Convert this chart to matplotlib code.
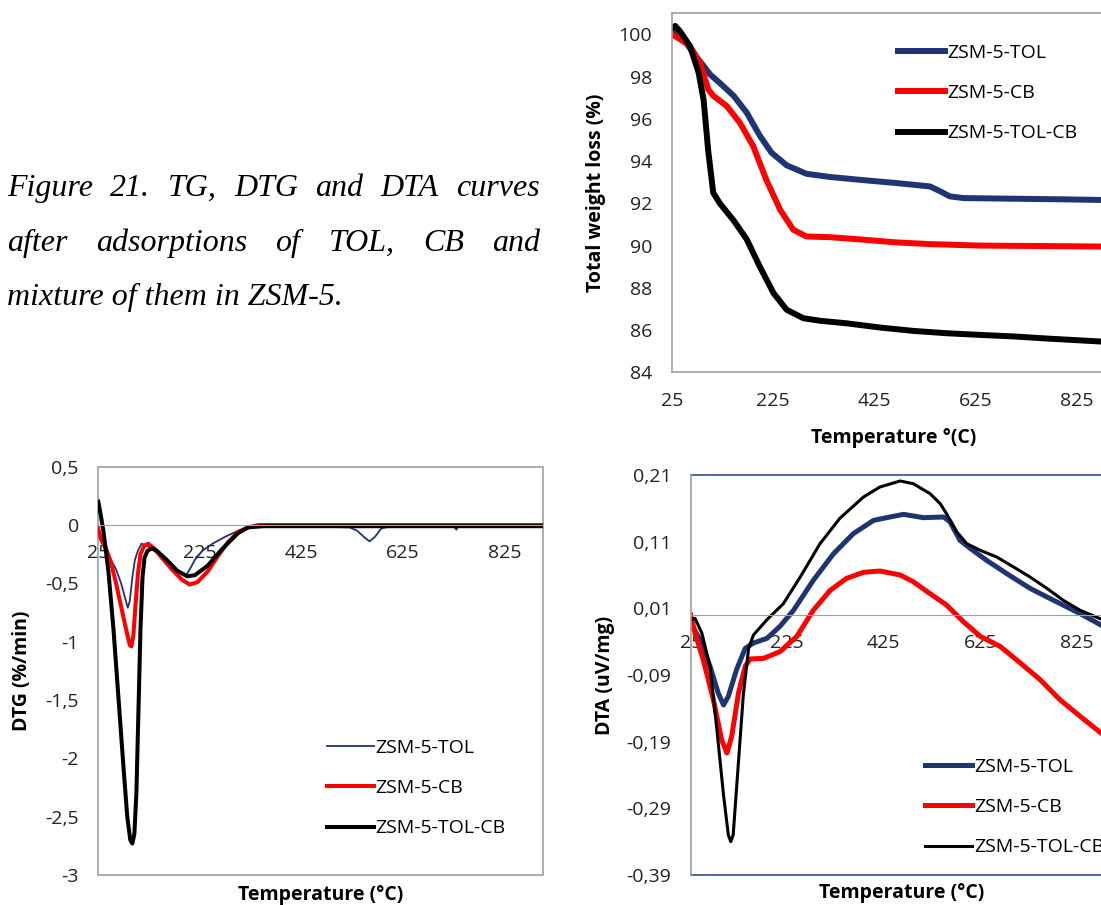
import numpy as np
import matplotlib
matplotlib.use("Agg")
import matplotlib.pyplot as plt
from matplotlib.lines import Line2D
from matplotlib.patches import Rectangle

# ------------------------------------------------------------------
# Data (temperature in degC)
# ------------------------------------------------------------------
labels = ["ZSM-5-TOL", "ZSM-5-CB", "ZSM-5-TOL-CB"]

# TG: total weight loss (%)
tg_tol_t = [25, 45, 68, 85, 101, 120, 147, 173, 199, 222, 252, 291, 337, 403,
            469, 535, 555, 574, 601, 699, 800, 900]
tg_tol = [100.2, 99.9, 99.1, 98.6, 98.1, 97.7, 97.1, 96.3, 95.2, 94.4, 93.8,
          93.4, 93.25, 93.1, 92.96, 92.8, 92.57, 92.33, 92.25, 92.22, 92.19, 92.15]
tg_cb_t = [25, 40, 61, 81, 97, 107, 134, 160, 186, 212, 239, 265, 291, 337,
           403, 469, 535, 634, 750, 900]
tg_cb = [100.0, 99.8, 99.45, 98.66, 97.4, 97.1, 96.6, 95.8, 94.7, 93.1, 91.7,
         90.75, 90.43, 90.4, 90.28, 90.15, 90.07, 90.0, 89.98, 89.95]
tg_mix_t = [25, 32, 41, 61, 78, 88, 97, 107, 120, 147, 173, 199, 226, 252,
            285, 318, 370, 436, 502, 568, 634, 699, 765, 900]
tg_mix = [100.3, 100.4, 100.16, 99.45, 98.2, 96.9, 94.5, 92.5, 92.0, 91.2,
          90.3, 89.0, 87.75, 86.96, 86.56, 86.44, 86.32, 86.12, 85.96, 85.85,
          85.77, 85.7, 85.6, 85.42]

# DTG (%/min)
dtg_tol_t = [25, 30, 40, 50, 60, 70, 78, 83, 87, 92, 97, 103, 110, 118, 130,
             150, 170, 190, 198, 205, 215, 230, 250, 275, 300, 320, 400, 520,
             535, 550, 559, 570, 582, 600, 725, 730, 735, 900]
dtg_tol = [-0.05, -0.12, -0.22, -0.3, -0.38, -0.5, -0.63, -0.71, -0.65, -0.45,
           -0.3, -0.22, -0.16, -0.17, -0.2, -0.28, -0.36, -0.42, -0.43, -0.38,
           -0.3, -0.22, -0.16, -0.1, -0.05, -0.02, -0.01, -0.02, -0.05, -0.11,
           -0.14, -0.1, -0.03, -0.01, -0.01, -0.04, 0.0, -0.01]
dtg_cb_t = [25, 30, 40, 50, 60, 70, 80, 87, 90, 94, 98, 103, 108, 115, 123,
            135, 150, 170, 190, 205, 220, 240, 260, 280, 300, 320, 340, 900]
dtg_cb = [-0.03, -0.12, -0.2, -0.32, -0.5, -0.7, -0.9, -1.03, -1.04, -0.95,
          -0.7, -0.42, -0.25, -0.18, -0.16, -0.2, -0.28, -0.38, -0.47, -0.51,
          -0.49, -0.4, -0.27, -0.15, -0.06, -0.02, 0.0, 0.0]
dtg_mix_t = [25, 30, 35, 45, 55, 65, 75, 82, 88, 92, 96, 100, 104, 108, 112,
             116, 122, 130, 140, 160, 180, 200, 215, 240, 270, 300, 320, 350,
             900]
dtg_mix = [0.2, 0.08, -0.05, -0.4, -0.9, -1.5, -2.1, -2.5, -2.7, -2.73, -2.65,
           -2.3, -1.6, -0.9, -0.45, -0.28, -0.22, -0.2, -0.22, -0.3, -0.39,
           -0.44, -0.43, -0.35, -0.2, -0.07, -0.02, -0.01, -0.01]

# DTA (uV/mg)
dta_tol_t = [25, 44, 65, 82, 93, 103, 120, 138, 155, 183, 210, 238, 279, 321,
             362, 404, 431, 466, 507, 549, 562, 583, 604, 638, 680, 728, 777,
             832, 875, 900]
dta_tol = [-0.012, -0.037, -0.077, -0.117, -0.135, -0.122, -0.082, -0.05,
           -0.042, -0.035, -0.017, 0.007, 0.052, 0.092, 0.122, 0.142, 0.146,
           0.151, 0.146, 0.147, 0.14, 0.112, 0.1, 0.082, 0.062, 0.04, 0.022,
           0.002, -0.015, -0.025]
dta_cb_t = [25, 34, 51, 72, 89, 100, 110, 124, 138, 148, 176, 210, 245, 279,
            314, 348, 383, 417, 459, 486, 521, 555, 590, 625, 666, 708, 749,
            790, 832, 875, 900]
dta_cb = [0.0, -0.027, -0.067, -0.127, -0.187, -0.207, -0.182, -0.117, -0.077,
          -0.066, -0.065, -0.055, -0.032, 0.007, 0.037, 0.055, 0.064, 0.066,
          0.06, 0.05, 0.032, 0.015, -0.01, -0.032, -0.047, -0.072, -0.097,
          -0.127, -0.152, -0.177, -0.19]
dta_mix_t = [25, 34, 48, 65, 79, 93, 103, 108, 113, 124, 134, 145, 155, 183,
             217, 252, 293, 334, 383, 417, 459, 486, 521, 542, 555, 576, 597,
             625, 659, 694, 728, 763, 797, 832, 875, 900]
dta_mix = [-0.007, -0.005, -0.027, -0.077, -0.17, -0.27, -0.33, -0.34, -0.33,
           -0.22, -0.12, -0.05, -0.03, -0.007, 0.017, 0.057, 0.107, 0.145,
           0.177, 0.192, 0.201, 0.197, 0.182, 0.167, 0.152, 0.125, 0.107,
           0.097, 0.087, 0.072, 0.057, 0.04, 0.022, 0.007, -0.006, -0.015]

# Axis ticks and labels
x_ticks = [25, 225, 425, 625, 825]
x_ticklabels = ["25", "225", "425", "625", "825"]
tg_yticks = [84, 86, 88, 90, 92, 94, 96, 98, 100]
tg_yticklabels = ["84", "86", "88", "90", "92", "94", "96", "98", "100"]
dtg_yticks = [-3, -2.5, -2, -1.5, -1, -0.5, 0, 0.5]
dtg_yticklabels = ["-3", "-2,5", "-2", "-1,5", "-1", "-0,5", "0", "0,5"]
dta_yticks = [-0.39, -0.29, -0.19, -0.09, 0.01, 0.11, 0.21]
dta_yticklabels = ["-0,39", "-0,29", "-0,19", "-0,09", "0,01", "0,11", "0,21"]

caption_lines = [
    "Figure 21. TG, DTG and DTA curves",
    "after adsorptions of TOL, CB and",
    "mixture of them in ZSM-5.",
]

# ------------------------------------------------------------------
# Style
# ------------------------------------------------------------------
W, H = 1101, 905
NAVY = "#1F3472"
RED = "#FF0000"
BLACK = "#000000"
GRAY = "#A0A0A0"
FONT = "Open Sans"
FS = 14

plt.rcParams["font.family"] = FONT
plt.rcParams["axes.unicode_minus"] = False

fig = plt.figure(figsize=(W / 100, H / 100), dpi=100)


def px_box(x0, y0, x1, y1):
    """Axes rectangle from pixel edges (top-left origin)."""
    return [x0 / W, 1 - y1 / H, (x1 - x0) / W, (y1 - y0) / H]


def style_axes(ax, yticks, yticklabels):
    ax.set_xlim(25, 900)
    ax.set_xticks(x_ticks)
    ax.set_xticklabels(x_ticklabels, fontsize=FS)
    ax.set_yticks(yticks)
    ax.set_yticklabels(yticklabels, fontsize=FS)
    ax.tick_params(axis="both", length=0, colors="#222222")
    ax.tick_params(axis="x", pad=14)
    ax.tick_params(axis="y", pad=14)


def add_legend(ax, x, y):
    ax.legend(labels, loc="upper left", bbox_to_anchor=(x / W, 1 - y / H),
              bbox_transform=fig.transFigure, frameon=False, borderpad=0,
              borderaxespad=0, handlelength=2.42, handletextpad=0.1,
              labelspacing=1.14, prop={"family": FONT, "size": FS})


# ------------------------------------------------------------------
# TG
# ------------------------------------------------------------------
ax1 = fig.add_axes(px_box(671.7, 13.3, 1115, 372.3))
ax1.plot(tg_tol_t, tg_tol, color=NAVY, lw=4.3, solid_joinstyle="round")
ax1.plot(tg_cb_t, tg_cb, color=RED, lw=4.3, solid_joinstyle="round")
ax1.plot(tg_mix_t, tg_mix, color=BLACK, lw=4.3, solid_joinstyle="round")
ax1.set_ylim(84, 101)
style_axes(ax1, tg_yticks, tg_yticklabels)
for s in ax1.spines.values():
    s.set_color(GRAY)
    s.set_linewidth(1.2)
ax1.set_xlabel("Temperature °(C)", fontsize=FS, fontweight="bold", labelpad=13)
ax1.set_ylabel("Total weight loss (%)", fontsize=FS, fontweight="bold",
               labelpad=9)
add_legend(ax1, 898, 44)

# ------------------------------------------------------------------
# DTG
# ------------------------------------------------------------------
ax2 = fig.add_axes(px_box(98.3, 466.7, 542.7, 875))
ax2.set_axisbelow(True)
for k in ["top", "left", "right"]:
    ax2.spines[k].set_visible(False)
# x axis crosses at zero
ax2.spines["bottom"].set_position(("data", 0))
ax2.spines["bottom"].set_color(GRAY)
ax2.plot(dtg_tol_t, dtg_tol, color=NAVY, lw=1.3, solid_joinstyle="round")
ax2.plot(dtg_cb_t, dtg_cb, color=RED, lw=2.9, solid_joinstyle="round")
ax2.plot(dtg_mix_t, dtg_mix, color=BLACK, lw=2.9, solid_joinstyle="round")
ax2.set_ylim(-3, 0.5)
style_axes(ax2, dtg_yticks, dtg_yticklabels)
ax2.add_patch(Rectangle((0, 0), 1, 1, transform=ax2.transAxes, fill=False,
                        ec=GRAY, lw=1.2, clip_on=False, zorder=0.4))
fig.text(320.5 / W, 1 - 895 / H, "Temperature (°C)", fontsize=FS,
         fontweight="bold", ha="center", va="center")
fig.text(22 / W, 1 - 671 / H, "DTG (%/min)", fontsize=FS, fontweight="bold",
         ha="center", va="center", rotation=90)
add_legend(ax2, 326.7, 739)

# ------------------------------------------------------------------
# DTA
# ------------------------------------------------------------------
ax3 = fig.add_axes(px_box(690.7, 475, 1113, 875))
ax3.set_axisbelow(True)
for k in ["top", "right"]:
    ax3.spines[k].set_visible(False)
ax3.spines["left"].set_color(GRAY)
ax3.spines["left"].set_linewidth(1.2)
ax3.spines["bottom"].set_position(("data", 0))
ax3.spines["bottom"].set_color(GRAY)
ax3.plot(dta_tol_t, dta_tol, color=NAVY, lw=3.6, solid_joinstyle="round")
ax3.plot(dta_cb_t, dta_cb, color=RED, lw=3.6, solid_joinstyle="round")
ax3.plot(dta_mix_t, dta_mix, color=BLACK, lw=2.2, solid_joinstyle="round")
ax3.set_ylim(-0.39, 0.21)
style_axes(ax3, dta_yticks, dta_yticklabels)
for yy in (0, 1):
    ax3.add_line(Line2D([0, 1], [yy, yy], transform=ax3.transAxes,
                        color="#2F4F8F", lw=1.2, clip_on=False, zorder=0.4))
fig.text(901.8 / W, 1 - 893 / H, "Temperature (°C)", fontsize=FS,
         fontweight="bold", ha="center", va="center")
fig.text(605 / W, 1 - 675 / H, "DTA (uV/mg)", fontsize=FS, fontweight="bold",
         ha="center", va="center", rotation=90)
add_legend(ax3, 925, 758)

# ------------------------------------------------------------------
# Caption, justified over the first two lines
# ------------------------------------------------------------------
cap_font = dict(family="Liberation Serif", style="italic", fontsize=23)
cap_x0, cap_x1 = 7, 540
baselines = [196, 250.7, 305.4]
renderer = fig.canvas.get_renderer()
for i, (line, yb) in enumerate(zip(caption_lines, baselines)):
    if i == len(caption_lines) - 1:
        fig.text(cap_x0 / W, 1 - yb / H, line, va="baseline", ha="left",
                 **cap_font)
        continue
    words = line.split()
    texts = [fig.text(0, 1 - yb / H, w, va="baseline", ha="left", **cap_font)
             for w in words]
    widths = [t.get_window_extent(renderer).width for t in texts]
    gap = (cap_x1 - cap_x0 - sum(widths)) / (len(words) - 1)
    x = cap_x0
    for t, w in zip(texts, widths):
        t.set_x(x / W)
        x += w + gap

fig.savefig("out.png", dpi=100)
